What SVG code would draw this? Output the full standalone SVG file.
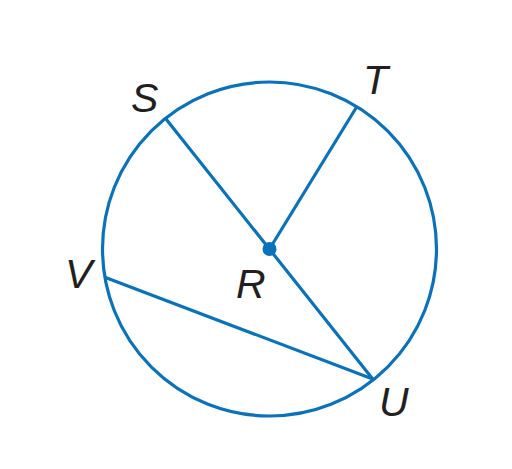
<svg xmlns="http://www.w3.org/2000/svg" width="512" height="469" viewBox="0 0 512 469">
<style>
.ln{stroke:#0a72ba;stroke-width:3.2;fill:none;stroke-linecap:round}
.lb{font-family:"Liberation Sans",Arial,sans-serif;font-style:italic;font-size:41px;fill:#231f20}
</style>
<rect width="512" height="469" fill="#fff"/>
<g id="circle"><circle class="ln" cx="269.5" cy="249" r="167"/></g>
<g id="connectors">
<line class="ln" x1="166" y1="119" x2="372.7" y2="379"/>
<line class="ln" x1="269.5" y1="249" x2="356" y2="108"/>
<line class="ln" x1="105.5" y1="277.5" x2="372.7" y2="379"/>
</g>
<g id="R"><circle cx="269.5" cy="249" r="7" fill="#0a72ba"/><text class="lb" x="236" y="298">R</text></g>
<g id="S"><text class="lb" x="131" y="112">S</text></g>
<g id="T"><text class="lb" x="363" y="94">T</text></g>
<g id="V"><text class="lb" x="65" y="288">V</text></g>
<g id="U"><text class="lb" x="379" y="416">U</text></g>
</svg>
